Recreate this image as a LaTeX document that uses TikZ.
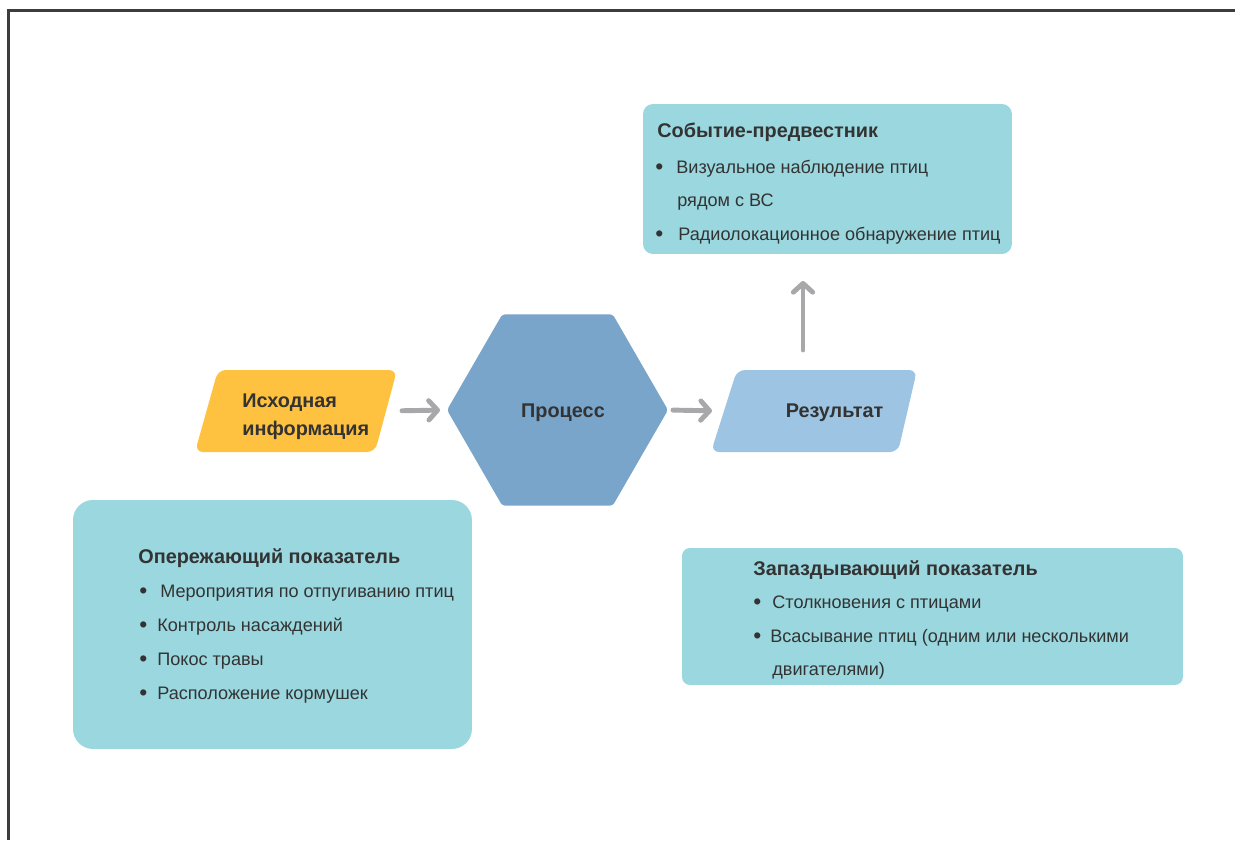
\documentclass[tikz,border=0pt]{standalone}
\usepackage{fontspec}
\setmainfont{Liberation Sans}
\usetikzlibrary{arrows.meta,shapes.geometric}
\definecolor{txtgray}{HTML}{333333}
\definecolor{boxteal}{HTML}{9AD7DF}
\definecolor{srcyellow}{HTML}{FFC140}
\definecolor{hexblue}{HTML}{7AA5CA}
\definecolor{resblue}{HTML}{9DC4E2}
\definecolor{arrowgray}{HTML}{A8A8AB}
\definecolor{framegray}{HTML}{3D3D3D}
\begin{document}
\begin{tikzpicture}[x=0.02cm,y=-0.02cm,
  conn/.style={draw=arrowgray, line width=2.8pt, line cap=round,
    -{Straight Barb[length=5pt,width=11pt,round]}},
  bodytxt/.style={anchor=base west, text=txtgray, inner sep=0pt,
    font=\fontsize{10.3}{12}\selectfont},
  bullettxt/.style={anchor=base west, text=txtgray, inner sep=0pt,
    font=\fontsize{13}{12}\selectfont},
  titletxt/.style={anchor=base west, text=txtgray, inner sep=0pt,
    font=\fontsize{11.3}{13}\selectfont\bfseries},
  boxfill/.style={fill=boxteal, draw=none, inner sep=0pt, outer sep=0pt, anchor=north west}]
\path[use as bounding box] (0,0) rectangle (1235,840);
% frame
\draw[framegray, line width=1.3pt] (8.5,840) -- (8.5,10.5) -- (1235,10.5);

% top box
\node[boxfill, rounded corners=0.2cm, minimum width=7.38cm, minimum height=3cm] (pre) at (643,104) {};
\node[titletxt] (preT) at (657,137) {Событие-предвестник};
\node[bullettxt] (preB1) at (655,174) {•};
\node[bodytxt] (preL1) at (676,173) {Визуальное наблюдение птиц};
\node[bodytxt] (preL1b) at (677,206) {рядом с ВС};
\node[bullettxt] (preB2) at (655,241) {•};
\node[bodytxt] (preL2) at (678,240) {Радиолокационное обнаружение птиц};

% source parallelogram
\fill[srcyellow, rounded corners=0.16cm] (195,452) -- (218,370) -- (397,370) -- (375,452) -- cycle;
\coordinate (srcE) at (386,411);
\node[anchor=base west, align=left, text=txtgray, inner sep=0pt,
  font=\fontsize{11.3}{15.9}\selectfont\bfseries] (srcT) at (242,435) {Исходная\\информация};

% process hexagon
\node[regular polygon, regular polygon sides=6, minimum size=4.42cm, fill=hexblue,
  inner sep=0pt, outer sep=0pt, rounded corners=0.06cm] (proc) at (557.5,410) {};
\node[anchor=base, text=txtgray, inner sep=0pt, font=\fontsize{11.3}{13}\selectfont\bfseries]
  (procT) at (563,417) {Процесс};

% result parallelogram
\fill[resblue, rounded corners=0.16cm] (711,452) -- (737,370) -- (917,370) -- (898,452) -- cycle;
\coordinate (resW) at (724,411);
\coordinate (resN) at (803,370);
\node[anchor=base, text=txtgray, inner sep=0pt, font=\fontsize{11.3}{13}\selectfont\bfseries]
  (resT) at (834.5,417) {Результат};

% connectors
\draw[conn, shorten <=0.32cm, shorten >=0.14cm] (srcE) -- (proc.west);
\draw[conn, shorten <=0.1cm, shorten >=0.24cm] (proc.east) -- (resW);
\draw[conn, shorten <=0.4cm, shorten >=0.54cm] (resN) -- (pre.south -| resN);

% leading indicator box
\node[boxfill, rounded corners=0.4cm, minimum width=7.98cm, minimum height=4.98cm] (lead) at (73,500) {};
\node[titletxt] (leadT) at (138,563) {Опережающий показатель};
\node[bullettxt] (leadB1) at (139,598) {•};
\node[bodytxt] (leadL1) at (160,597) {Мероприятия по отпугиванию птиц};
\node[bullettxt] (leadB2) at (139,632) {•};
\node[bodytxt] (leadL2) at (157,631) {Контроль насаждений};
\node[bullettxt] (leadB3) at (139,666) {•};
\node[bodytxt] (leadL3) at (157,665) {Покос травы};
\node[bullettxt] (leadB4) at (139,700) {•};
\node[bodytxt] (leadL4) at (157,699) {Расположение кормушек};

% lagging indicator box
\node[boxfill, rounded corners=0.16cm, minimum width=10.02cm, minimum height=2.74cm] (lag) at (682,548) {};
\node[titletxt] (lagT) at (753,575) {Запаздывающий показатель};
\node[bullettxt] (lagB1) at (753,609) {•};
\node[bodytxt] (lagL1) at (772,608) {Столкновения с птицами};
\node[bullettxt] (lagB2) at (753,643) {•};
\node[bodytxt] (lagL2) at (770,642) {Всасывание птиц (одним или несколькими};
\node[bodytxt] (lagL2b) at (772,675) {двигателями)};
\end{tikzpicture}
\end{document}
